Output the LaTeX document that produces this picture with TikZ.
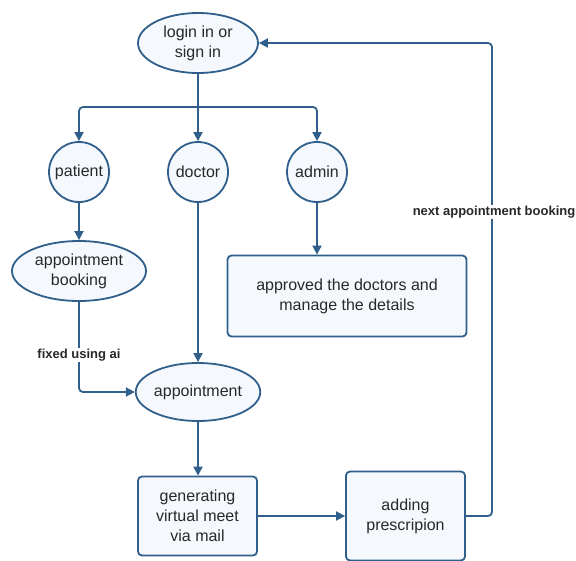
\documentclass[tikz,border=0pt]{standalone}
\usepackage{fontspec}
\setmainfont{Liberation Sans}
\usetikzlibrary{shapes.geometric,arrows.meta}
\definecolor{strokeblue}{RGB}{47,95,138}
\definecolor{fillblue}{RGB}{245,249,253}
\definecolor{txt}{RGB}{40,40,40}
\tikzset{
  base/.style={draw=strokeblue, line width=1.8pt, fill=fillblue, text=txt, font=\fontsize{16}{20}\selectfont, align=center, inner sep=0pt},
  oval/.style={base, ellipse},
  roundnode/.style={base, circle, minimum size=60pt},
  boxnode/.style={base, rectangle, rounded corners=4pt},
  conn/.style={draw=strokeblue, line width=1.8pt, rounded corners=4pt},
  arr/.style={conn, -{Triangle[length=9pt,width=9pt]}},
  lbl/.style={fill=white, text=txt, font=\fontsize{13}{15}\bfseries\selectfont, inner sep=1pt}
}
\begin{document}
\begin{tikzpicture}[x=1pt,y=-1pt]
\useasboundingbox (0,0) rectangle (576,560);
\node[oval, minimum width=120pt, minimum height=60pt] (login) at (198,43) {login in or\\sign in};
\node[roundnode] (patient) at (79,172) {patient};
\node[roundnode] (doctor) at (198,172) {doctor};
\node[roundnode] (admin) at (317,172) {admin};
\node[oval, minimum width=134pt, minimum height=60pt] (booking) at (79,271) {appointment\\booking};
\node[boxnode, minimum width=239pt, minimum height=81pt] (adminbox) at (347,296) {approved the doctors and\\manage the details};
\node[oval, minimum width=122pt, minimum height=58pt] (appt) at (198,392) {appointment};
\node[boxnode, minimum width=119pt, minimum height=79pt] (gen) at (197.5,516) {generating\\virtual meet\\via mail};
\node[boxnode, minimum width=119pt, minimum height=89pt] (adding) at (405.5,516) {adding\\prescripion};
\coordinate (bus) at (198,107);
\coordinate (loopa) at (492,516);
\coordinate (loopb) at (492,43);
\draw[conn] (login.south) -- (bus);
\draw[arr] (bus) -| (patient.north);
\draw[arr] (bus) -- (doctor.north);
\draw[arr] (bus) -| (admin.north);
\draw[arr] (patient.south) -- (booking.north);
\draw[arr] (doctor.south) -- (appt.north);
\draw[arr] (admin.south) -- (admin.south |- adminbox.north);
\draw[arr] (booking.south) |- (appt.west);
\node[lbl] (fixlbl) at (79,355) {fixed using ai};
\draw[arr] (appt.south) -- (appt.south |- gen.north);
\draw[arr] (gen.east) -- (adding.west);
\draw[arr] (adding.east) -- (loopa) -- (loopb) -- (login.east);
\node[lbl] (nextlbl) at (494,212) {next appointment booking};
\end{tikzpicture}
\end{document}
